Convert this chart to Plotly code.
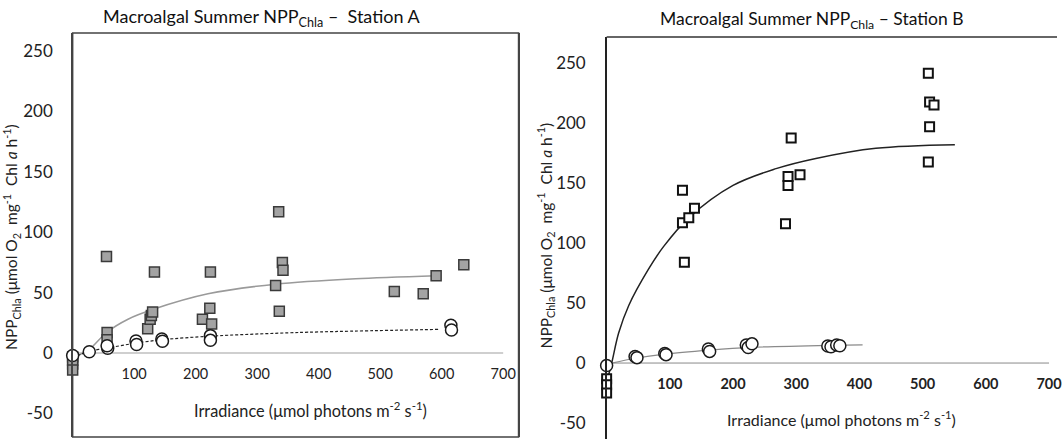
import plotly.graph_objects as go

# ---------------- Station A data ----------------
A_SQ_X = [0, 0, 0, 0, 55, 56, 56, 122, 126, 128, 130, 133, 211, 223, 224, 226,
          330, 335, 336, 341, 342, 523, 570, 591, 636]
A_SQ_Y = [-3, -6, -9, -14, 80, 17, 11, 20, 28, 31, 34, 67, 28, 37, 67, 24,
          56, 117, 34.5, 75, 68.5, 51, 49, 64, 73]
A_CI_X = [0, 27, 57, 56, 103, 104, 145, 146, 224, 224, 615, 616]
A_CI_Y = [-2, 1, 4, 6, 10, 7, 11.6, 9.7, 14.4, 10.5, 23, 19]
A_FIT_SQ_X = [0, 27, 55, 90, 130, 220, 330, 460, 591]
A_FIT_SQ_Y = [-4, 3, 17, 28, 36, 49, 57, 61.5, 64]
A_FIT_CI_X = [0, 27, 55, 100, 145, 225, 367, 597]
A_FIT_CI_Y = [-4, 1.5, 4, 8, 11, 14, 17, 19.6]

# ---------------- Station B data ----------------
B_SQ_X = [0, 0, 0, 120, 120, 130, 139, 123, 292, 287, 287, 306, 283, 509, 511, 518, 511, 509]
B_SQ_Y = [-13, -18, -25, 144, 117, 121, 129, 84, 187.5, 155.5, 148, 157, 116, 241.5, 217.5, 215, 197, 167.5]
B_CI_X = [0, 45, 48, 92, 94, 161, 163, 221, 224, 230, 350, 355, 364, 369]
B_CI_Y = [-2, 5.5, 4.5, 8, 7, 11.7, 9.7, 15, 13, 16, 14.2, 13.6, 15, 14.4]
B_FIT_SQ_X = [0, 8, 19, 35, 66, 90, 130, 200, 268, 331, 426, 551]
B_FIT_SQ_Y = [-16, 0, 25, 48, 78, 97, 121, 148, 162, 170.5, 179, 182]
B_FIT_CI_X = [8, 45, 92, 163, 226, 352, 405]
B_FIT_CI_Y = [0, 4, 7.5, 10.8, 13, 14.8, 15.2]

X_TICKS = [100, 200, 300, 400, 500, 600, 700]
Y_TICKS = [-50, 0, 50, 100, 150, 200, 250]
Y_TICK_TEXT = ["-50", "0", "50", "100", "150", "200", "250"]

FONT = "Lato"
W, H = 1062, 439

fig = go.Figure()

# zero lines (x = 0 .. 700)
fig.add_trace(go.Scatter(x=[0, X_TICKS[-1]], y=[0, 0], mode="lines",
                         line=dict(color="#cfcfcf", width=2), xaxis="x", yaxis="y",
                         hoverinfo="skip", showlegend=False))
fig.add_trace(go.Scatter(x=[0, X_TICKS[-1]], y=[0, 0], mode="lines",
                         line=dict(color="#8a8a8a", width=1), xaxis="x2", yaxis="y2",
                         hoverinfo="skip", showlegend=False))

# Station A fits
fig.add_trace(go.Scatter(x=A_FIT_SQ_X, y=A_FIT_SQ_Y, mode="lines",
                         line=dict(color="#9a9a9a", width=1.5, shape="spline", smoothing=0.8),
                         xaxis="x", yaxis="y", showlegend=False, cliponaxis=False))
fig.add_trace(go.Scatter(x=A_FIT_CI_X, y=A_FIT_CI_Y, mode="lines",
                         line=dict(color="#222222", width=1.2, dash="3px,2px", shape="spline", smoothing=0.8),
                         xaxis="x", yaxis="y", showlegend=False, cliponaxis=False))
# Station A markers
fig.add_trace(go.Scatter(x=A_SQ_X, y=A_SQ_Y, mode="markers",
                         marker=dict(symbol="square", size=10, color="#a3a3a3",
                                     line=dict(color="#3a3a3a", width=1.5)),
                         xaxis="x", yaxis="y", showlegend=False, cliponaxis=False))
fig.add_trace(go.Scatter(x=A_CI_X, y=A_CI_Y, mode="markers",
                         marker=dict(symbol="circle", size=12, color="white",
                                     line=dict(color="#1a1a1a", width=1.5)),
                         xaxis="x", yaxis="y", showlegend=False, cliponaxis=False))

# Station B fits
fig.add_trace(go.Scatter(x=B_FIT_SQ_X, y=B_FIT_SQ_Y, mode="lines",
                         line=dict(color="#222222", width=1.5, shape="spline", smoothing=1.0),
                         xaxis="x2", yaxis="y2", showlegend=False, cliponaxis=False))
fig.add_trace(go.Scatter(x=B_FIT_CI_X, y=B_FIT_CI_Y, mode="lines",
                         line=dict(color="#8a8a8a", width=1.2, shape="spline", smoothing=0.8),
                         xaxis="x2", yaxis="y2", showlegend=False, cliponaxis=False))
# Station B markers
fig.add_trace(go.Scatter(x=B_SQ_X, y=B_SQ_Y, mode="markers",
                         marker=dict(symbol="square", size=9, color="white",
                                     line=dict(color="#111111", width=2)),
                         xaxis="x2", yaxis="y2", showlegend=False, cliponaxis=False))
fig.add_trace(go.Scatter(x=B_CI_X, y=B_CI_Y, mode="markers",
                         marker=dict(symbol="circle", size=12, color="white",
                                     line=dict(color="#1a1a1a", width=1.5)),
                         xaxis="x2", yaxis="y2", showlegend=False, cliponaxis=False))

def py(px):
    return 1 - px / H

def pxx(px):
    return px / W

tickfont = dict(family=FONT, size=17, color="#222222")

fig.update_layout(
    width=W, height=H,
    margin=dict(l=0, r=0, t=0, b=0),
    paper_bgcolor="white", plot_bgcolor="white",
    showlegend=False,
    font=dict(family=FONT, color="#222222"),
    xaxis=dict(domain=[pxx(73), pxx(521)], range=[0, 725], anchor="free", position=py(353),
               tickvals=X_TICKS, showgrid=False, zeroline=False, showline=False,
               ticks="", ticklabelstandoff=10, ticklabeloverflow="allow",
               tickfont=dict(family=FONT, size=14.5, color="#222222")),
    yaxis=dict(domain=[py(437), py(33)], range=[-69.5, 264.9], anchor="x",
               tickvals=Y_TICKS, ticktext=Y_TICK_TEXT, showgrid=False, zeroline=False,
               showline=True, linecolor="#444444", linewidth=1.5, mirror=True,
               ticks="", ticklabelstandoff=15, tickfont=tickfont),
    xaxis2=dict(domain=[pxx(609.5), 1.0], range=[0, 712.6], anchor="free", position=py(363),
                tickvals=X_TICKS, showgrid=False, zeroline=False, showline=False,
                ticks="", ticklabelstandoff=10, ticklabeloverflow="allow",
                tickfont=dict(family=FONT, size=14.5, color="#222222", weight="bold")),
    yaxis2=dict(domain=[0, py(37)], range=[-63.3, 271.7], anchor="x2",
                tickvals=Y_TICKS, ticktext=Y_TICK_TEXT, showgrid=False, zeroline=False,
                showline=True, linecolor="#222222", linewidth=1.5,
                ticks="", ticklabelstandoff=16, tickfont=tickfont),
)

# panel frames
fig.add_shape(type="rect", xref="x domain", yref="y domain", x0=0, x1=1, y0=0, y1=1,
              line=dict(color="#444444", width=1.5), layer="below")
fig.add_shape(type="line", xref="x2 domain", yref="y2 domain", x0=0, x1=1, y0=1, y1=1,
              line=dict(color="#333333", width=1.5))

ytitle = ("NPP<sub>Chla</sub> (μmol O<sub>2</sub>  mg<sup>-1</sup>  Chl <i>a</i> h<sup>-1</sup>)")
xtitle = "Irradiance (μmol photons m<sup>-2</sup> s<sup>-1</sup>)"

anns = [
    dict(text="Macroalgal Summer NPP<sub>Chla</sub> –  Station A", x=pxx(263), y=py(18),
         font=dict(size=18, family=FONT, color="#111111")),
    dict(text="Macroalgal Summer NPP<sub>Chla</sub> – Station B", x=pxx(816), y=py(20),
         font=dict(size=17.5, family=FONT, color="#111111")),
    dict(text=xtitle, x=pxx(312), y=py(409), font=dict(size=16.3, family=FONT, color="#222222")),
    dict(text=xtitle, x=pxx(845), y=py(418), font=dict(size=16, family=FONT, color="#222222")),
    dict(text=ytitle, x=pxx(11), y=py(237), textangle=-90,
         font=dict(size=15.5, family=FONT, color="#222222")),
    dict(text=ytitle, x=pxx(548), y=py(235), textangle=-90,
         font=dict(size=15.5, family=FONT, color="#222222")),
]
for a in anns:
    fig.add_annotation(xref="paper", yref="paper", showarrow=False,
                       xanchor="center", yanchor="middle", **a)

# remove the browser's default page margin so the figure fills the window exactly
fig.write_html("out.html",
               config={"displayModeBar": False, "staticPlot": True},
               post_script="document.body.style.margin='0';document.body.style.overflow='hidden';")
